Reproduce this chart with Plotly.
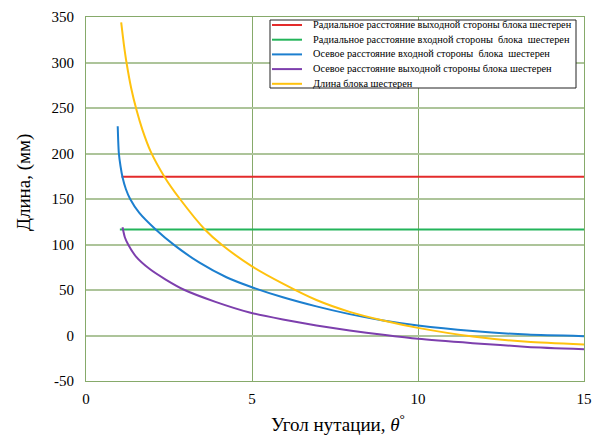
import plotly.graph_objects as go

# ---- data ----
names = [
    "Радиальное расстояние выходной стороны блока шестерен",
    "Радиальное расстояние входной стороны\u00a0 блока\u00a0 шестерен",
    "Осевое расстояние входной стороны\u00a0 блока\u00a0 шестерен",
    "Осевое расстояние выходной стороны блока шестерен",
    "Длина блока шестерен",
]

red_x = [1.07, 15.0]
red_y = [174.5, 174.5]

green_x = [1.02, 15.0]
green_y = [116.5, 116.5]

blue_x = [0.955, 0.97, 0.99, 1.04, 1.10, 1.20, 1.33, 1.60, 2.10, 2.67, 3.42, 4.23, 5.00, 5.93, 6.94, 7.94, 8.95, 10.0, 11.65, 13.3, 15.0]
blue_y = [230, 214, 200, 186, 174, 161, 150, 135, 116.5, 99, 80, 64, 53, 42, 32, 23.5, 16.5, 11, 5, 1, -0.7]

purple_x = [1.10, 1.17, 1.27, 1.50, 1.92, 2.40, 2.97, 3.90, 4.93, 5.93, 6.94, 7.94, 8.95, 10.0, 11.65, 13.3, 15.0]
purple_y = [119, 108, 100, 87, 73, 61.5, 50, 37, 25.3, 17.6, 11, 5.5, 0.8, -3.6, -8.4, -12.5, -15]

yellow_x = [1.06, 1.14, 1.22, 1.36, 1.52, 1.70, 1.95, 2.37, 2.83, 3.58, 4.08, 5.00, 5.93, 6.94, 7.94, 8.95, 10.0, 11.65, 13.3, 15.0]
yellow_y = [344, 320, 300, 272, 248, 226, 202, 174, 150, 116.5, 100, 76, 57, 39, 26, 16.5, 8.4, -1.1, -7, -9.9]

x_ticks = [0, 5, 10, 15]
y_ticks = [-50, 0, 50, 100, 150, 200, 250, 300, 350]

colors = ["#e32b2b", "#23b45a", "#1c7fcf", "#7d3fad", "#ffc20e"]
series = [(red_x, red_y), (green_x, green_y), (blue_x, blue_y), (purple_x, purple_y), (yellow_x, yellow_y)]

W, H = 597, 435
ML, MR, MT, MB = 86, 13, 17, 54
PW, PH = W - ML - MR, H - MT - MB


def fx(px):
    return (px - ML) / PW


def fy(py):
    return (H - MB - py) / PH


serif = "Liberation Serif"

fig = go.Figure()
for (xs, ys), nm, c in zip(series, names, colors):
    fig.add_trace(go.Scatter(
        x=xs, y=ys, mode="lines", name=nm, showlegend=False,
        line=dict(color=c, width=2, shape="spline", smoothing=0.6),
    ))

# manual legend (box, line samples, labels)
shapes = [dict(type="rect", xref="paper", yref="paper",
               x0=fx(270), x1=fx(576), y0=fy(88), y1=fy(20),
               line=dict(color="#222222", width=1), fillcolor="white", layer="above")]
annotations = []
row_y = [25, 39.7, 54.4, 69.1, 83.8]
for ry, nm, c in zip(row_y, names, colors):
    shapes.append(dict(type="line", xref="paper", yref="paper",
                       x0=fx(272), x1=fx(302), y0=fy(ry), y1=fy(ry),
                       line=dict(color=c, width=2), layer="above"))
    annotations.append(dict(text=nm, xref="paper", yref="paper",
                            x=fx(311), y=fy(ry - 0.5), xanchor="left", yanchor="middle",
                            showarrow=False, font=dict(family=serif, size=10.3, color="black")))

# axis titles
annotations.append(dict(text="Длина, (мм)", xref="paper", yref="paper",
                        x=fx(24), y=fy(183), xanchor="center", yanchor="middle", textangle=-90,
                        showarrow=False, font=dict(family=serif, size=19, color="black")))
annotations.append(dict(text="Угол нутации, <i>θ</i><sup>°</sup>", xref="paper", yref="paper",
                        x=fx(338), y=fy(423), xanchor="center", yanchor="middle",
                        showarrow=False, font=dict(family=serif, size=19, color="black")))

fig.update_layout(
    width=W, height=H,
    margin=dict(l=ML, r=MR, t=MT, b=MB, autoexpand=False),
    paper_bgcolor="white", plot_bgcolor="white",
    font=dict(family=serif, color="black"),
    showlegend=False,
    shapes=shapes,
    annotations=annotations,
    xaxis=dict(
        range=[0, 15], tickvals=x_ticks, ticktext=[str(v) for v in x_ticks],
        showgrid=True, gridcolor="#86aa6a", gridwidth=1.2,
        showline=True, linecolor="#86aa6a", linewidth=1.2, mirror=True,
        zeroline=False, ticks="", ticklabelstandoff=4, automargin=False,
        tickfont=dict(size=15, family=serif, color="black"),
    ),
    yaxis=dict(
        range=[-50, 350], tickvals=y_ticks, ticktext=[str(v) for v in y_ticks],
        showgrid=True, gridcolor="#adc49a", gridwidth=1.6,
        showline=True, linecolor="#86aa6a", linewidth=1.2, mirror=True,
        zeroline=False, ticks="", ticklabelstandoff=8, automargin=False,
        tickfont=dict(size=15, family=serif, color="black"),
    ),
)

fig.write_html(
    "out.html",
    config={"displayModeBar": False},
    post_script="document.body.style.margin='0';document.body.style.padding='0';",
)
